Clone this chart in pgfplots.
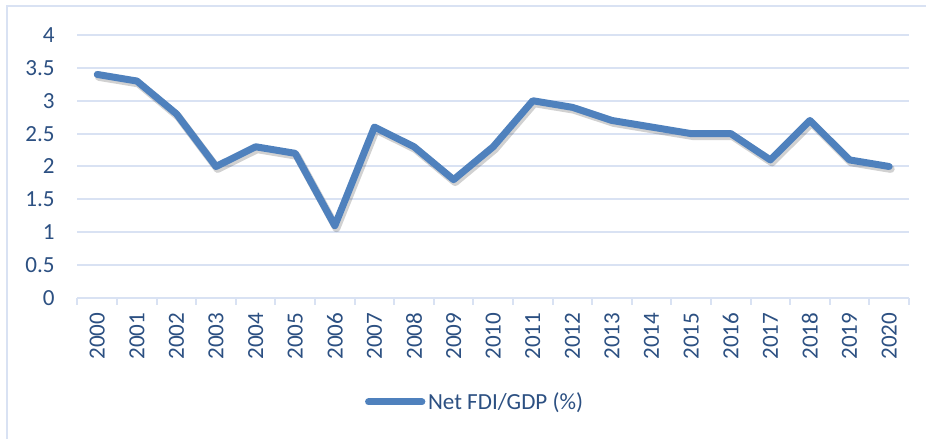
\documentclass[border=0pt]{standalone}
\usepackage{pgfplots}
\pgfplotsset{compat=1.18}
\usepackage{fontspec}
\setmainfont{Carlito}
\definecolor{linec}{RGB}{79,129,189}
\definecolor{gridc}{RGB}{217,226,243}
\definecolor{txtc}{RGB}{44,80,130}
\begin{document}
\begin{tikzpicture}
\useasboundingbox (0,0) rectangle (694.5pt,329.25pt);
\fill[white] (0,0) rectangle (694.5pt,329.25pt);
\draw[gridc, line width=1.5pt] (5.6pt,0) -- (5.6pt,325pt) -- (694.5pt,325pt);
\begin{axis}[
  at={(58.1pt,105.75pt)}, anchor=south west,
  scale only axis, width=623.6pt, height=197.25pt,
  xmin=-0.5, xmax=20.5, ymin=0, ymax=4,
  /pgf/number format/assume math mode=true,
  ytick={0,0.5,...,4},
  yticklabels={0,0.5,1,1.5,2,2.5,3,3.5,4},
  xtick={-0.5,0.5,...,20.5},
  x tick label as interval,
  xticklabels={2000,2001,2002,2003,2004,2005,2006,2007,2008,2009,2010,2011,2012,2013,2014,2015,2016,2017,2018,2019,2020},
  major tick length=5pt,
  tick align=outside,
  axis x line*=bottom, axis y line*=left,
  x axis line style={gridc, line width=1.5pt, -},
  y axis line style={draw=none},
  xtick style={gridc, line width=1.5pt},
  ytick style={draw=none},
  ymajorgrids, major grid style={gridc, line width=1.5pt},
  tick label style={font=\fontsize{17.3}{20}\selectfont, text=txtc},
  yticklabel style={anchor=east, inner sep=0pt, xshift=-12pt},
  xticklabel style={yshift=-6pt, rotate=90, anchor=east, inner sep=0pt},
  legend style={at={(0.4786,-0.395)}, anchor=center, draw=none, fill=none,
    font=\fontsize{17.3}{20}\selectfont, text=txtc, inner sep=0pt},
  legend cell align=left,
  legend image code/.code={\draw[linec, line width=5.25pt, line cap=round] (0pt,0pt) -- (40pt,0pt);},
  clip=false,
]
\addplot[forget plot, black, opacity=0.18, line width=6pt, line join=round, line cap=round, shift={(1.2pt,-1.8pt)}] coordinates {
(0,3.4)(1,3.3)(2,2.8)(3,2.0)(4,2.3)(5,2.2)(6,1.1)(7,2.6)(8,2.3)(9,1.8)(10,2.3)(11,3.0)(12,2.9)(13,2.7)(14,2.6)(15,2.5)(16,2.5)(17,2.1)(18,2.7)(19,2.1)(20,2.0)};
\addplot[linec, line width=5.25pt, line join=round, line cap=round] coordinates {
(0,3.4)(1,3.3)(2,2.8)(3,2.0)(4,2.3)(5,2.2)(6,1.1)(7,2.6)(8,2.3)(9,1.8)(10,2.3)(11,3.0)(12,2.9)(13,2.7)(14,2.6)(15,2.5)(16,2.5)(17,2.1)(18,2.7)(19,2.1)(20,2.0)};
\addlegendentry{Net FDI/GDP (\%)}
\end{axis}
\end{tikzpicture}
\end{document}
